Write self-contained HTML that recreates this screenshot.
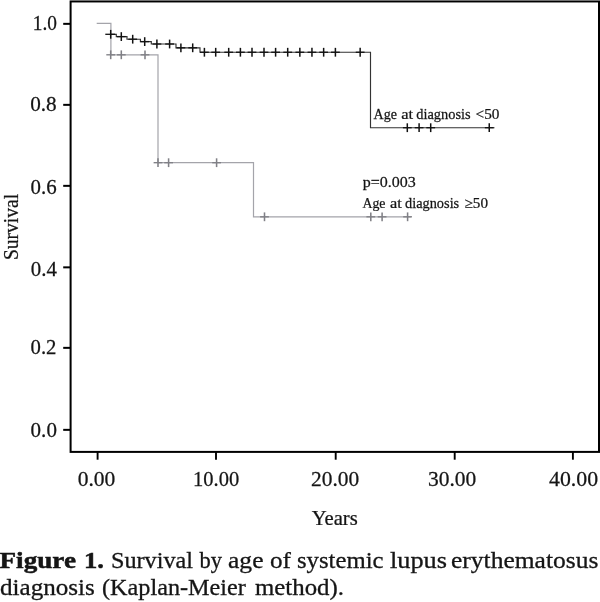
<!DOCTYPE html>
<html><head><meta charset="utf-8"><title>Figure 1</title>
<style>
html,body{margin:0;padding:0;background:#fff;}
svg{display:block;font-family:"Liberation Serif",serif;fill:#151515;}
</style></head><body>
<svg width="600" height="602" viewBox="0 0 600 602">
<rect width="600" height="602" fill="#fff"/>
<rect x="70.6" y="1.45" width="528.4" height="450.45" fill="none" stroke="#000" stroke-width="2"/>
<line x1="63.2" x2="70" y1="23.85" y2="23.85" stroke="#000" stroke-width="2"/>
<text transform="matrix(0.9680 0 0 1.0441 32.70 30.19)" font-size="20" stroke="#151515" stroke-width="0.25">1.0</text>
<line x1="63.2" x2="70" y1="104.85" y2="104.85" stroke="#000" stroke-width="2"/>
<text transform="matrix(1.0600 0 0 1.0588 30.20 111.38)" font-size="20" stroke="#151515" stroke-width="0.25">0.8</text>
<line x1="63.2" x2="70" y1="185.85" y2="185.85" stroke="#000" stroke-width="2"/>
<text transform="matrix(1.0440 0 0 1.0735 30.60 194.28)" font-size="20" stroke="#151515" stroke-width="0.25">0.6</text>
<line x1="63.2" x2="70" y1="267.35" y2="267.35" stroke="#000" stroke-width="2"/>
<text transform="matrix(1.0440 0 0 1.0110 30.80 275.70)" font-size="20" stroke="#151515" stroke-width="0.25">0.4</text>
<line x1="63.2" x2="70" y1="347.85" y2="347.85" stroke="#000" stroke-width="2"/>
<text transform="matrix(1.0380 0 0 1.0441 30.50 353.99)" font-size="20" stroke="#151515" stroke-width="0.25">0.2</text>
<line x1="63.2" x2="70" y1="429.85" y2="429.85" stroke="#000" stroke-width="2"/>
<text transform="matrix(1.0520 0 0 1.0735 30.60 436.58)" font-size="20" stroke="#151515" stroke-width="0.25">0.0</text>
<line x1="97.6" x2="97.6" y1="452" y2="459.7" stroke="#000" stroke-width="1.9"/>
<text transform="matrix(1.0771 0 0 1.0221 77.70 486.09)" font-size="20" stroke="#151515" stroke-width="0.25">0.00</text>
<line x1="216" x2="216" y1="452" y2="459.7" stroke="#000" stroke-width="1.9"/>
<text transform="matrix(1.0267 0 0 1.0221 193.00 486.09)" font-size="20" stroke="#151515" stroke-width="0.25">10.00</text>
<line x1="335.7" x2="335.7" y1="452" y2="459.7" stroke="#000" stroke-width="1.9"/>
<text transform="matrix(1.0711 0 0 1.0221 311.00 486.09)" font-size="20" stroke="#151515" stroke-width="0.25">20.00</text>
<line x1="454.7" x2="454.7" y1="452" y2="459.7" stroke="#000" stroke-width="1.9"/>
<text transform="matrix(1.0733 0 0 1.0221 428.00 486.09)" font-size="20" stroke="#151515" stroke-width="0.25">30.00</text>
<line x1="572.9" x2="572.9" y1="452" y2="459.7" stroke="#000" stroke-width="1.9"/>
<text transform="matrix(1.0911 0 0 1.0221 549.00 486.09)" font-size="20" stroke="#151515" stroke-width="0.25">40.00</text>
<path d="M96.7 23.4 H110.9 V54.8 H158 V162.7 H253.5 V216.8 H411" fill="none" stroke="#a4a4aa" stroke-width="1.2"/>
<path d="M106.30 54.8 H115.10" stroke="#808086" stroke-width="1.35" fill="none"/><path d="M110.7 50.40 V59.20" stroke="#808086" stroke-width="1.55" fill="none"/>
<path d="M116.90 54.8 H125.70" stroke="#808086" stroke-width="1.35" fill="none"/><path d="M121.3 50.40 V59.20" stroke="#808086" stroke-width="1.55" fill="none"/>
<path d="M140.60 54.8 H149.40" stroke="#808086" stroke-width="1.35" fill="none"/><path d="M145 50.40 V59.20" stroke="#808086" stroke-width="1.55" fill="none"/>
<path d="M153.60 162.7 H162.40" stroke="#808086" stroke-width="1.35" fill="none"/><path d="M158 158.30 V167.10" stroke="#808086" stroke-width="1.55" fill="none"/>
<path d="M164.20 162.7 H173.00" stroke="#808086" stroke-width="1.35" fill="none"/><path d="M168.6 158.30 V167.10" stroke="#808086" stroke-width="1.55" fill="none"/>
<path d="M212.20 162.7 H221.00" stroke="#808086" stroke-width="1.35" fill="none"/><path d="M216.6 158.30 V167.10" stroke="#808086" stroke-width="1.55" fill="none"/>
<path d="M260.10 216.8 H268.90" stroke="#808086" stroke-width="1.35" fill="none"/><path d="M264.5 212.40 V221.20" stroke="#808086" stroke-width="1.55" fill="none"/>
<path d="M366.40 216.8 H375.20" stroke="#808086" stroke-width="1.35" fill="none"/><path d="M370.8 212.40 V221.20" stroke="#808086" stroke-width="1.55" fill="none"/>
<path d="M377.70 216.8 H386.50" stroke="#808086" stroke-width="1.35" fill="none"/><path d="M382.1 212.40 V221.20" stroke="#808086" stroke-width="1.55" fill="none"/>
<path d="M403.20 216.8 H412.00" stroke="#808086" stroke-width="1.35" fill="none"/><path d="M407.6 212.40 V221.20" stroke="#808086" stroke-width="1.55" fill="none"/>
<path d="M110.9 34.3 H116.3 V36.6 H127 V39.2 H140.4 V41.6 H151.3 V44.0 H176 V47.8 H200 V52.25 H370.5 V127.7 H494.5" fill="none" stroke="#333" stroke-width="1.15"/>
<path d="M105.30 34.3 H115.10" stroke="#111" stroke-width="1.30" fill="none"/><path d="M110.7 29.90 V38.70" stroke="#111" stroke-width="1.5" fill="none"/>
<path d="M116.90 36.6 H125.70" stroke="#111" stroke-width="1.30" fill="none"/><path d="M121.3 32.20 V41.00" stroke="#111" stroke-width="1.5" fill="none"/>
<path d="M128.30 39.2 H137.10" stroke="#111" stroke-width="1.30" fill="none"/><path d="M132.7 34.80 V43.60" stroke="#111" stroke-width="1.5" fill="none"/>
<path d="M140.30 41.6 H149.10" stroke="#111" stroke-width="1.30" fill="none"/><path d="M144.7 37.20 V46.00" stroke="#111" stroke-width="1.5" fill="none"/>
<path d="M152.50 44.0 H161.30" stroke="#111" stroke-width="1.30" fill="none"/><path d="M156.9 39.60 V48.40" stroke="#111" stroke-width="1.5" fill="none"/>
<path d="M165.20 44.0 H174.00" stroke="#111" stroke-width="1.30" fill="none"/><path d="M169.6 39.60 V48.40" stroke="#111" stroke-width="1.5" fill="none"/>
<path d="M176.50 47.8 H185.30" stroke="#111" stroke-width="1.30" fill="none"/><path d="M180.9 43.40 V52.20" stroke="#111" stroke-width="1.5" fill="none"/>
<path d="M188.30 47.8 H197.10" stroke="#111" stroke-width="1.30" fill="none"/><path d="M192.7 43.40 V52.20" stroke="#111" stroke-width="1.5" fill="none"/>
<path d="M200.00 52.25 H208.80" stroke="#111" stroke-width="1.30" fill="none"/><path d="M204.4 47.85 V56.65" stroke="#111" stroke-width="1.5" fill="none"/>
<path d="M211.30 52.25 H220.10" stroke="#111" stroke-width="1.30" fill="none"/><path d="M215.7 47.85 V56.65" stroke="#111" stroke-width="1.5" fill="none"/>
<path d="M224.30 52.25 H233.10" stroke="#111" stroke-width="1.30" fill="none"/><path d="M228.7 47.85 V56.65" stroke="#111" stroke-width="1.5" fill="none"/>
<path d="M236.00 52.25 H244.80" stroke="#111" stroke-width="1.30" fill="none"/><path d="M240.4 47.85 V56.65" stroke="#111" stroke-width="1.5" fill="none"/>
<path d="M247.60 52.25 H256.40" stroke="#111" stroke-width="1.30" fill="none"/><path d="M252 47.85 V56.65" stroke="#111" stroke-width="1.5" fill="none"/>
<path d="M259.60 52.25 H268.40" stroke="#111" stroke-width="1.30" fill="none"/><path d="M264 47.85 V56.65" stroke="#111" stroke-width="1.5" fill="none"/>
<path d="M271.20 52.25 H280.00" stroke="#111" stroke-width="1.30" fill="none"/><path d="M275.6 47.85 V56.65" stroke="#111" stroke-width="1.5" fill="none"/>
<path d="M283.30 52.25 H292.10" stroke="#111" stroke-width="1.30" fill="none"/><path d="M287.7 47.85 V56.65" stroke="#111" stroke-width="1.5" fill="none"/>
<path d="M295.45 52.25 H304.25" stroke="#111" stroke-width="1.30" fill="none"/><path d="M299.85 47.85 V56.65" stroke="#111" stroke-width="1.5" fill="none"/>
<path d="M307.55 52.25 H316.35" stroke="#111" stroke-width="1.30" fill="none"/><path d="M311.95 47.85 V56.65" stroke="#111" stroke-width="1.5" fill="none"/>
<path d="M319.25 52.25 H328.05" stroke="#111" stroke-width="1.30" fill="none"/><path d="M323.65 47.85 V56.65" stroke="#111" stroke-width="1.5" fill="none"/>
<path d="M331.00 52.25 H339.80" stroke="#111" stroke-width="1.30" fill="none"/><path d="M335.4 47.85 V56.65" stroke="#111" stroke-width="1.5" fill="none"/>
<path d="M355.75 52.25 H364.55" stroke="#111" stroke-width="1.30" fill="none"/><path d="M360.15 47.85 V56.65" stroke="#111" stroke-width="1.5" fill="none"/>
<path d="M402.90 127.7 H411.70" stroke="#111" stroke-width="1.30" fill="none"/><path d="M407.3 123.30 V132.10" stroke="#111" stroke-width="1.5" fill="none"/>
<path d="M414.70 127.7 H423.50" stroke="#111" stroke-width="1.30" fill="none"/><path d="M419.1 123.30 V132.10" stroke="#111" stroke-width="1.5" fill="none"/>
<path d="M426.30 127.7 H435.10" stroke="#111" stroke-width="1.30" fill="none"/><path d="M430.7 123.30 V132.10" stroke="#111" stroke-width="1.5" fill="none"/>
<path d="M484.85 127.7 H493.65" stroke="#111" stroke-width="1.30" fill="none"/><path d="M489.25 123.30 V132.10" stroke="#111" stroke-width="1.5" fill="none"/>
<text transform="matrix(0.9126 0 0 1.0000 373.55 119.20)" font-size="15.4" stroke="#151515" stroke-width="0.25">Age</text>
<text transform="matrix(1.0695 0 0 1.0000 401.30 119.20)" font-size="15.4" stroke="#151515" stroke-width="0.25">at</text>
<text transform="matrix(0.9351 0 0 1.0000 416.30 119.20)" font-size="15.4" stroke="#151515" stroke-width="0.25">diagnosis</text>
<text transform="matrix(0.9917 0 0 1.0000 475.55 119.20)" font-size="15.4" stroke="#151515" stroke-width="0.25">&lt;50</text>
<text transform="matrix(1.0971 0 0 1.0000 362.70 186.60)" font-size="14.6" stroke="#151515" stroke-width="0.25">p=0.003</text>
<text transform="matrix(0.9397 0 0 1.0000 362.50 207.50)" font-size="14.7" stroke="#151515" stroke-width="0.25">Age</text>
<text transform="matrix(1.1063 0 0 1.0000 390.00 207.50)" font-size="14.7" stroke="#151515" stroke-width="0.25">at</text>
<text transform="matrix(0.9770 0 0 1.0000 405.00 207.50)" font-size="14.7" stroke="#151515" stroke-width="0.25">diagnosis</text>
<text transform="matrix(1.0314 0 0 1.0000 464.50 207.50)" font-size="14.7" stroke="#151515" stroke-width="0.25">≥50</text>
<text transform="matrix(1.0172 0 0 1.0000 311.70 525.30)" font-size="20.3" stroke="#151515" stroke-width="0.25">Years</text>
<text transform="translate(17.8,260.00) rotate(-90) scale(0.9764,1)" font-size="20" stroke="#151515" stroke-width="0.25">Survival</text>
<text transform="matrix(1.1467 0 0 1.0000 -0.50 567.90)" font-size="23.7" font-weight="bold" stroke="#151515" stroke-width="0.5">Figure</text>
<text transform="matrix(1.1252 0 0 1.0000 84.00 567.90)" font-size="23.7" font-weight="bold" stroke="#151515" stroke-width="0.5">1.</text>
<text transform="matrix(1.0206 0 0 1.0000 111.00 567.90)" font-size="23.7" stroke="#151515" stroke-width="0.3">Survival</text>
<text transform="matrix(0.9494 0 0 1.0000 199.50 567.90)" font-size="23.7" stroke="#151515" stroke-width="0.3">by</text>
<text transform="matrix(1.0796 0 0 1.0000 228.00 567.90)" font-size="23.7" stroke="#151515" stroke-width="0.3">age</text>
<text transform="matrix(1.0612 0 0 1.0000 270.00 567.90)" font-size="23.7" stroke="#151515" stroke-width="0.3">of</text>
<text transform="matrix(1.0428 0 0 1.0000 297.00 567.90)" font-size="23.7" stroke="#151515" stroke-width="0.3">systemic</text>
<text transform="matrix(1.1096 0 0 1.0000 390.00 567.90)" font-size="23.7" stroke="#151515" stroke-width="0.3">lupus</text>
<text transform="matrix(1.0772 0 0 1.0000 451.00 567.90)" font-size="23.7" stroke="#151515" stroke-width="0.3">erythematosus</text>
<text transform="matrix(1.0583 0 0 1.0000 0.00 594.60)" font-size="23.7" stroke="#151515" stroke-width="0.3">diagnosis</text>
<text transform="matrix(1.0225 0 0 1.0000 102.00 594.60)" font-size="23.7" stroke="#151515" stroke-width="0.3">(Kaplan-Meier</text>
<text transform="matrix(1.0482 0 0 1.0000 255.00 594.60)" font-size="23.7" stroke="#151515" stroke-width="0.3">method).</text>
</svg>
</body></html>
